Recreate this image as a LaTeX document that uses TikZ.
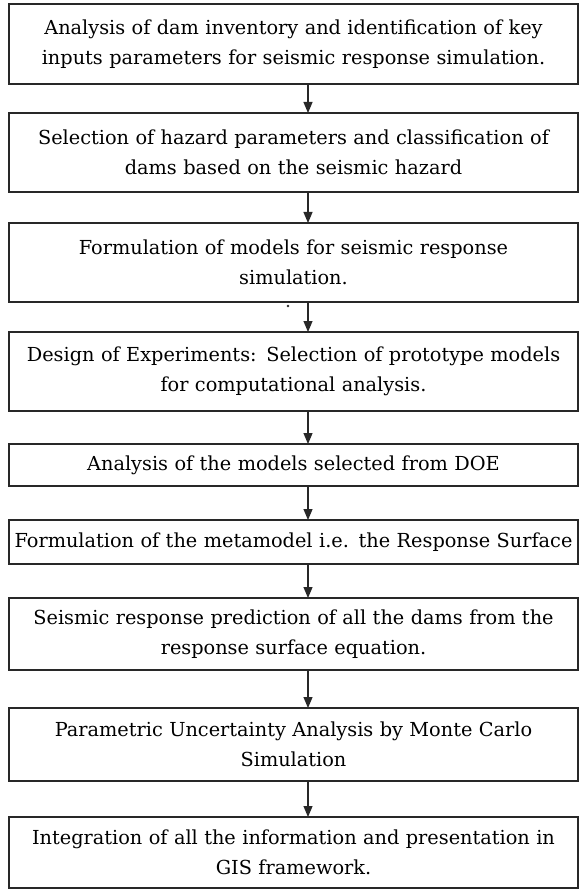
\documentclass[tikz,border=0pt]{standalone}
\usepackage{fontspec}
\setmainfont{DejaVu Serif}
\usetikzlibrary{arrows.meta,positioning}
\definecolor{boxline}{RGB}{40,40,40}

\begin{document}
\begin{tikzpicture}[x=1pt,y=-1pt,font=\fontsize{19.3}{30}\selectfont,
  stage/.style={draw=boxline,line width=1.2pt,outer sep=0pt,minimum width=569pt,text width=566pt,align=center,inner sep=0pt},
  flow/.style={-{Triangle[width=9pt,length=11pt]},line width=1.2pt,boxline}
]
  \useasboundingbox (0,0) rectangle (579,890);
  \node[stage,minimum height=80pt] (inv) at (293.5,44) {Analysis of dam inventory and identification of key\\inputs parameters for seismic response simulation.};
  \node[stage,minimum height=79pt,below=29pt of inv] (haz) {Selection of hazard parameters and classification of\\dams based on the seismic hazard};
  \node[stage,minimum height=79pt,below=31pt of haz] (mod) {Formulation of models for seismic response\\simulation.};
  \node[stage,minimum height=79pt,below=30pt of mod] (doe) {Design of Experiments: Selection of prototype models\\for computational analysis.};
  \node[stage,minimum height=42pt,below=33pt of doe] (ana) {Analysis of the models selected from DOE};
  \node[stage,minimum height=44pt,below=34pt of ana] (rsm) {Formulation of the metamodel i.e. the Response Surface};
  \node[stage,minimum height=72pt,below=34pt of rsm] (pred) {Seismic response prediction of all the dams from the\\response surface equation.};
  \node[stage,minimum height=73pt,below=38pt of pred] (mc) {Parametric Uncertainty Analysis by Monte Carlo\\Simulation};
  \node[stage,minimum height=71pt,below=36pt of mc] (gis) {Integration of all the information and presentation in\\GIS framework.};
  \node[circle,fill=boxline,inner sep=1pt] (dot) at (288,306) {};
  \coordinate (ax) at (308,0);
  \foreach \a/\b in {inv/haz,haz/mod,mod/doe,doe/ana,ana/rsm,rsm/pred,pred/mc,mc/gis}
    \draw[flow] (\a.south -| ax) -- (\b.north -| ax);
\end{tikzpicture}
\end{document}
